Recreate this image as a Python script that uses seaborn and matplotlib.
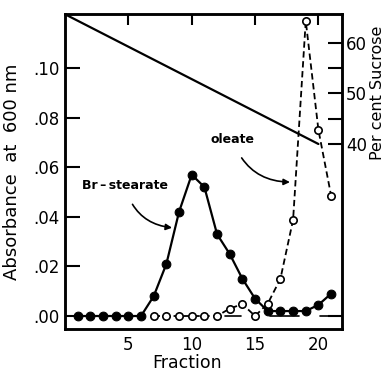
import numpy as np
import pandas as pd
import matplotlib
matplotlib.use("Agg")
import matplotlib.pyplot as plt
import seaborn as sns

# ---- data ----
fractions = list(range(1, 22))
br_stearate = [0.0, 0.0, 0.0, 0.0, 0.0, 0.0, 0.008, 0.021, 0.042, 0.057, 0.052,
               0.033, 0.025, 0.015, 0.007, 0.002, 0.002, 0.002, 0.002, 0.0045, 0.009]
oleate_fractions = list(range(7, 22))
oleate = [0.0, 0.0, 0.0, 0.0, 0.0, 0.0, 0.003, 0.0048, 0.0, 0.005, 0.015,
          0.0388, 0.119, 0.075, 0.0486]
sucrose_fractions = [0.15, 20]
sucrose = [65.5, 40]
baseline_segments = [(12.6, 13.9), (16.2, 18.5), (20.1, 21.8)]
left_ticks = [0.0, 0.02, 0.04, 0.06, 0.08, 0.10]
left_ticklabels = [".00", ".02", ".04", ".06", ".08", ".10"]
right_ticks = [40, 50, 60]
right_minor = [45, 55]
x_ticks = [5, 10, 15, 20]

sns.set_style("ticks")
plt.rcParams['font.family'] = ['DejaVu Sans']
plt.rcParams.update({"text.color": "black", "axes.labelcolor": "black",
                     "xtick.color": "black", "ytick.color": "black",
                     "axes.edgecolor": "black"})

fig = plt.figure(figsize=(3.88, 3.71), dpi=100)
ax = fig.add_axes([65/388, 1-329/371, (342-65)/388, (329-14)/371])

df_b = pd.DataFrame({"f": fractions, "a": br_stearate})
df_o = pd.DataFrame({"f": oleate_fractions, "a": oleate})

sns.lineplot(data=df_b, x="f", y="a", ax=ax, color="black", lw=1.6,
             marker="o", markersize=6.3, markeredgecolor="black", markerfacecolor="black")
sns.lineplot(data=df_o, x="f", y="a", ax=ax, color="black", lw=1.3,
             linestyle=(0, (3.5, 2)), marker="o", markersize=5.3,
             markerfacecolor="white", markeredgecolor="black", markeredgewidth=1.2)
for s, e in baseline_segments:
    ax.plot([s, e], [0, 0], color="black", lw=1.2)

ax.set_xlim(0, 21.86)
ax.set_ylim(-0.00524, 0.1218)
ax.set_yticks(left_ticks)
ax.set_yticklabels(left_ticklabels)
ax.set_xticks(x_ticks)
ax.tick_params(axis="y", direction="in", length=11, width=1.5, labelsize=12, pad=4)
ax.tick_params(axis="x", direction="in", labelsize=12, pad=5,
               top=True, labeltop=False, bottom=False, length=8, width=1.5)
ax.set_xlabel("Fraction", fontsize=12.5)
ax.xaxis.set_label_coords(0.442, -0.078)
ax.set_ylabel("Absorbance  at  600 nm", fontsize=13)
ax.yaxis.set_label_coords(-0.16, 0.5)
for sp in ax.spines.values():
    sp.set_linewidth(1.8)
    sp.set_color("black")
    sp.set_visible(True)

# right axis: sucrose
ax2 = ax.twinx()
df_s = pd.DataFrame({"f": sucrose_fractions, "s": sucrose})
sns.lineplot(data=df_s, x="f", y="s", ax=ax2, color="black", lw=1.6)
ax2.set_ylim(3.37, 65.74)
# value on right axis at left-axis zero
y0 = ax2.transData.inverted().transform(ax.transData.transform((0, 0)))[1]
ax2.set_yticks(right_ticks)
ax2.set_yticks(right_minor + [y0], minor=True)
ax2.tick_params(axis="y", which="major", direction="in", length=10, width=1.5,
                labelsize=12, pad=3)
ax2.tick_params(axis="y", which="minor", direction="in", length=10, width=1.5)
ax2.set_ylabel("Per cent Sucrose", fontsize=11.5)
ax2.yaxis.set_label_coords(1.1, 0.75)
ax2.set_xlabel("")
for sp in ax2.spines.values():
    sp.set_linewidth(1.8)
    sp.set_color("black")

# annotations
ax.annotate("Br\u2009\u2013\u2009stearate", xy=(8.45, 0.0356), xytext=(4.75, 0.0525),
            fontsize=9, fontweight="bold", ha="center", va="center",
            arrowprops=dict(arrowstyle="-|>", color="black", lw=1.2,
                            shrinkA=7, shrinkB=0, connectionstyle="arc3,rad=0.35",
                            mutation_scale=9))
ax.annotate("oleate", xy=(17.75, 0.054), xytext=(13.25, 0.0711),
            fontsize=9, fontweight="bold", ha="center", va="center",
            arrowprops=dict(arrowstyle="-|>", color="black", lw=1.2,
                            shrinkA=7, shrinkB=0, connectionstyle="arc3,rad=0.35",
                            mutation_scale=9))

fig.savefig("out.png", dpi=100)
